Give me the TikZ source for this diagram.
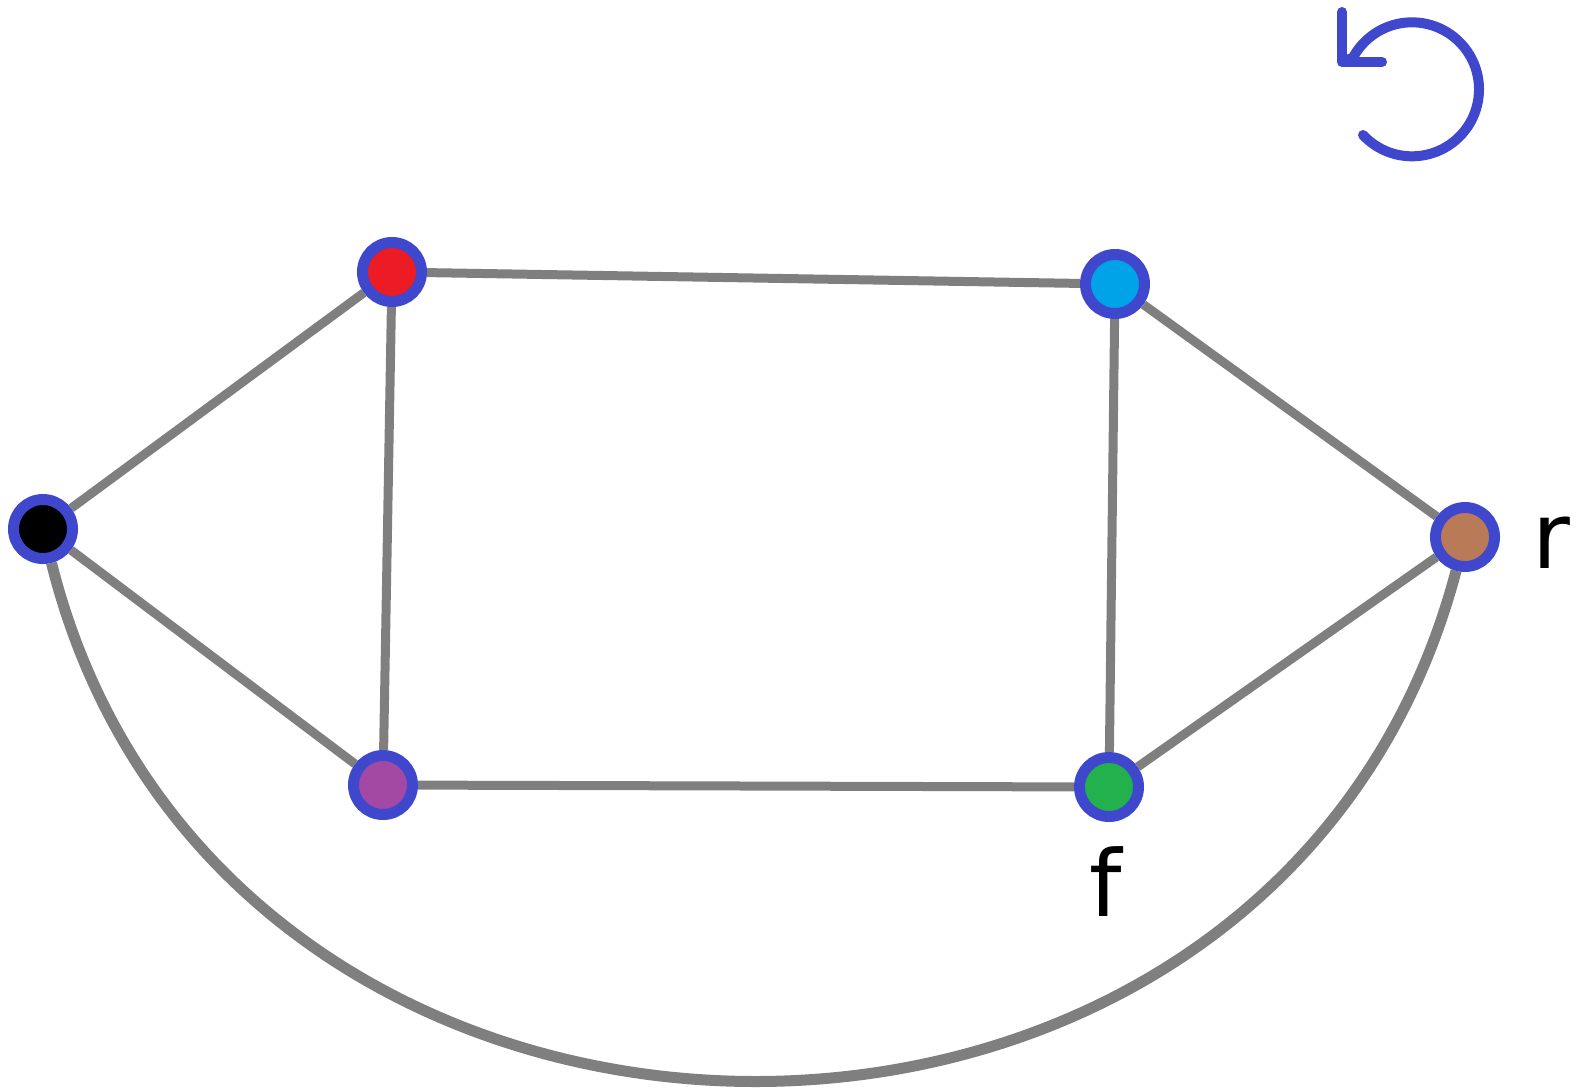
\documentclass[tikz,border=0pt]{standalone}
\usepackage{fontspec}
\setmainfont{DejaVu Sans}
\usetikzlibrary{backgrounds}
\definecolor{nodeblue}{HTML}{3F48CC}
\definecolor{edgegray}{HTML}{7F7F7F}
\definecolor{cred}{HTML}{ED1C24}
\definecolor{ccyan}{HTML}{00A2E8}
\definecolor{cbrown}{HTML}{B97A57}
\definecolor{cpurple}{HTML}{A349A4}
\definecolor{cgreen}{HTML}{22B14C}
\begin{document}
\begin{tikzpicture}[x=1pt,y=-1pt,
  vtx/.style={circle,draw=nodeblue,line width=11pt,minimum size=59pt,inner sep=0pt},
  edge/.style={draw=edgegray,line width=9pt},
  arcedge/.style={draw=edgegray,line width=11pt},
  lbl/.style={inner sep=0pt,font=\fontsize{92}{100}\selectfont},
  rot/.style={draw=nodeblue,line width=10pt,line cap=round,line join=round}]
\useasboundingbox (0,0) rectangle (1576,1088);
\node[vtx,fill=black]   (k)  at (43,529) {};
\node[vtx,fill=cred]    (rd) at (392,272) {};
\node[vtx,fill=ccyan]   (cy) at (1115,284) {};
\node[vtx,fill=cbrown]  (br) at (1465,537) {};
\node[vtx,fill=cpurple] (pu) at (383,785) {};
\node[vtx,fill=cgreen]  (gr) at (1109,787) {};
\node[lbl,anchor=base west] (rl) at (1532,568) {r};
\node[lbl,anchor=base] (fl) at (1106,916) {f};
\begin{pgfonlayer}{background}
\draw[edge] (k) -- (rd);
\draw[edge] (k) -- (pu);
\draw[edge] (rd) -- (cy);
\draw[edge] (rd) -- (pu);
\draw[edge] (cy) -- (gr);
\draw[edge] (cy) -- (br);
\draw[edge] (pu) -- (gr);
\draw[edge] (gr) -- (br);
\draw[arcedge] (k) .. controls +(180,720) and +(-190,720) .. (br);
\end{pgfonlayer}
% rotation icon
\draw[rot] (1363,135) arc[start angle=137,end angle=-152,radius=67] -- (1343,61);
\draw[rot] (1342,12) -- (1342,62) -- (1382,62);
\end{tikzpicture}
\end{document}
